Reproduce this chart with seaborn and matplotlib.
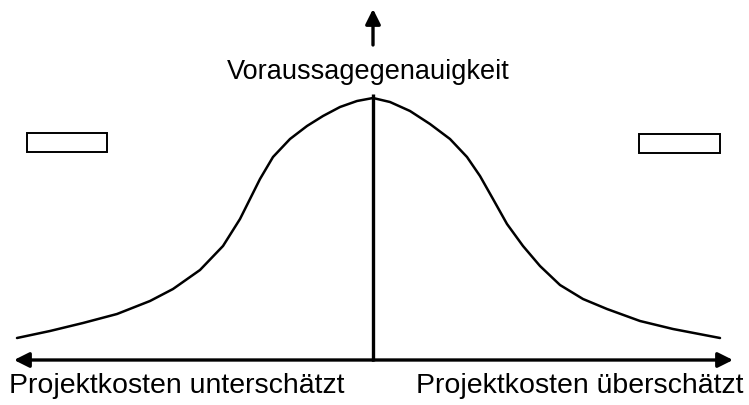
import matplotlib
matplotlib.use("Agg")
import matplotlib.pyplot as plt
import pandas as pd
import seaborn as sns
from matplotlib.patches import Rectangle

# bell curve (pixel space, y downwards)
curve_x = [17, 50, 83, 117, 150, 173, 200, 223, 240, 250, 260, 273, 290, 307,
           323, 340, 357, 373, 390, 410, 430, 450, 467, 480, 493, 507, 523,
           540, 560, 583, 607, 640, 673, 720]
curve_y = [339, 332, 324, 315, 302, 290, 271, 247, 220, 200, 180, 158, 140, 127,
           117, 108, 102, 99, 103, 112, 125, 140, 158, 177, 200, 225, 247,
           267, 286, 300, 310, 322, 330, 339]

y_label = "Voraussagegenauigkeit"
left_label = "Projektkosten unterschätzt"
right_label = "Projektkosten überschätzt"

sns.set_style("white")
plt.rcParams["font.family"] = ["Liberation Sans", "DejaVu Sans"]

fig = plt.figure(figsize=(7.49, 4.06), dpi=100)
ax = fig.add_axes([0, 0, 1, 1])
ax.set_xlim(0, 749)
ax.set_ylim(406, 0)
ax.axis("off")

df = pd.DataFrame({"x": curve_x, "y": curve_y})
sns.lineplot(data=df, x="x", y="y", ax=ax, color="black", linewidth=1.8,
             sort=False, solid_joinstyle="round")

arrow = dict(arrowstyle="-|>,head_width=0.45,head_length=0.9", color="black",
             lw=2.4, shrinkA=0, shrinkB=0)
# horizontal double arrow
ax.annotate("", xy=(14, 361), xytext=(373, 361), arrowprops=arrow)
ax.annotate("", xy=(733, 361), xytext=(373, 361), arrowprops=arrow)
# vertical arrow
ax.plot([373, 373], [362, 95], color="black", lw=2.4, solid_capstyle="butt")
ax.annotate("", xy=(373, 10), xytext=(373, 46), arrowprops=arrow)

ax.text(368, 72, y_label, ha="center", va="center", fontsize=19.5, color="black")
ax.text(9, 386, left_label, ha="left", va="center", fontsize=20.5, color="black")
ax.text(743, 386, right_label, ha="right", va="center", fontsize=20.5, color="black")

ax.add_patch(Rectangle((27, 134), 80, 19, fill=False, edgecolor="black", lw=1.4))
ax.add_patch(Rectangle((639, 135), 81, 19, fill=False, edgecolor="black", lw=1.4))

fig.savefig("out.png", dpi=100)
